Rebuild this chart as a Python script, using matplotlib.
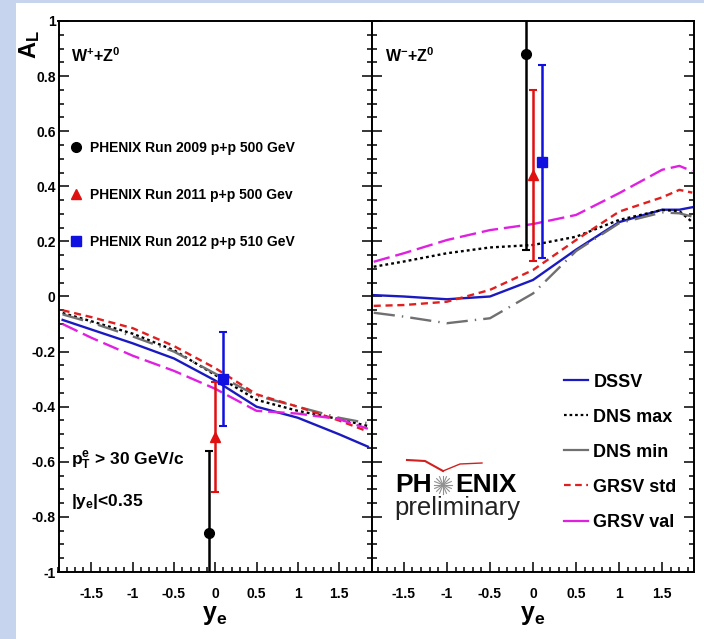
import numpy as np
import matplotlib
matplotlib.use('Agg')
import matplotlib.pyplot as plt
from matplotlib.lines import Line2D
from matplotlib.patches import Rectangle
from matplotlib.ticker import MultipleLocator, FuncFormatter

plt.rcParams['font.family'] = ['Liberation Sans', 'DejaVu Sans']
plt.rcParams['font.weight'] = 'bold'
plt.rcParams['axes.unicode_minus'] = False
plt.rcParams['mathtext.fontset'] = 'custom'
plt.rcParams['mathtext.rm'] = 'Liberation Sans:bold'
plt.rcParams['mathtext.it'] = 'Liberation Sans:bold'
plt.rcParams['mathtext.bf'] = 'Liberation Sans:bold'
plt.rcParams['mathtext.default'] = 'rm'

# data points (y_e, A_L, error)
runs = ['PHENIX Run 2009 p+p 500 GeV', 'PHENIX Run 2011 p+p 500 Gev', 'PHENIX Run 2012 p+p 510 GeV']
run_x = [-0.08, 0.0, 0.1]
wplus_AL = [-0.86, -0.51, -0.30]
wplus_err = [0.30, 0.20, 0.17]
wminus_AL = [0.88, 0.44, 0.49]
wminus_err = [0.71, 0.31, 0.35]

# theory curves, W+ panel
xl = [-1.85, -1.5, -1.0, -0.5, 0.0, 0.5, 1.0, 1.5, 1.85]
l_dssv = [-0.085, -0.12, -0.17, -0.225, -0.305, -0.40, -0.44, -0.50, -0.545]
l_dnsmax = [-0.06, -0.09, -0.135, -0.195, -0.285, -0.375, -0.415, -0.445, -0.47]
l_dnsmin = [-0.065, -0.095, -0.145, -0.20, -0.28, -0.36, -0.40, -0.44, -0.46]
l_grsvstd = [-0.05, -0.075, -0.115, -0.18, -0.26, -0.355, -0.40, -0.45, -0.49]
l_grsvval = [-0.10, -0.15, -0.215, -0.27, -0.335, -0.415, -0.425, -0.445, -0.48]

# theory curves, W- panel
xr = [-1.85, -1.5, -1.0, -0.5, 0.0, 0.5, 1.0, 1.5, 1.7, 1.85]
r_dssv = [0.005, 0.0, -0.01, 0.0, 0.06, 0.17, 0.27, 0.315, 0.315, 0.324]
r_dnsmax = [0.108, 0.127, 0.157, 0.178, 0.187, 0.217, 0.278, 0.314, 0.31, 0.27]
r_dnsmin = [-0.059, -0.073, -0.097, -0.079, 0.011, 0.165, 0.266, 0.305, 0.302, 0.29]
r_grsvstd = [-0.034, -0.031, -0.019, 0.024, 0.096, 0.205, 0.308, 0.36, 0.387, 0.377]
r_grsvval = [0.126, 0.157, 0.205, 0.241, 0.263, 0.296, 0.375, 0.46, 0.474, 0.455]

models = ['DSSV', 'DNS max', 'DNS min', 'GRSV std', 'GRSV val']
colors = ['#1a1ac0', 'black', '#707070', '#e02020', '#e020e0']
styles = ['-', (0, (1.2, 1.3)), (0, (9, 3, 0.6, 3)), (0, (3, 2)), (0, (7, 2.5))]
pt_colors = ['black', '#e01010', '#1010e0']
pt_markers = ['o', '^', 's']
pt_sizes = [7, 7, 7.5]

fmt = FuncFormatter(lambda v, p: '%g' % round(v, 3))

W, H = 704, 639
fig = plt.figure(figsize=(W / 100, H / 100), dpi=100)
fig.patch.set_facecolor('#c6d4ee')
fig.add_artist(Rectangle((16 / W, 0), 1, 1 - 3 / H, transform=fig.transFigure,
                         facecolor='white', edgecolor='none', zorder=0))

ax1 = fig.add_axes([58.5 / W, 67 / H, 313.5 / W, 551 / H])
ax2 = fig.add_axes([372 / W, 67 / H, 322 / W, 551 / H])

curves = [
    (ax1, xl, [l_dssv, l_dnsmax, l_dnsmin, l_grsvstd, l_grsvval], wplus_AL, wplus_err),
    (ax2, xr, [r_dssv, r_dnsmax, r_dnsmin, r_grsvstd, r_grsvval], wminus_AL, wminus_err),
]
for ax, xs, ys, al, err in curves:
    for y, c, ls in zip(ys, colors, styles):
        ax.plot(xs, y, color=c, ls=ls, lw=1.7)
    for i in range(3):
        ax.errorbar(run_x[i], al[i], yerr=err[i], color=pt_colors[i], marker=pt_markers[i],
                    ms=pt_sizes[i], lw=1.8, capsize=3, capthick=1.5, zorder=5)
    ax.set_ylim(-1, 1)
    ax.xaxis.set_major_locator(MultipleLocator(0.5))
    ax.xaxis.set_minor_locator(MultipleLocator(0.1))
    ax.yaxis.set_major_locator(MultipleLocator(0.2))
    ax.yaxis.set_minor_locator(MultipleLocator(0.05))
    ax.xaxis.set_major_formatter(fmt)
    ax.yaxis.set_major_formatter(fmt)
    ax.tick_params(which='both', direction='in', left=True, right=True, top=False, width=1.1)
    ax.tick_params(which='major', length=7)
    ax.tick_params(which='minor', length=3.5)
    ax.tick_params(axis='x', pad=11, labelsize=10)
    ax.tick_params(axis='y', pad=2, labelsize=10)
    for s in ax.spines.values():
        s.set_linewidth(1.4)

ax1.set_xlim(-1.9, 1.9)
ax2.set_xlim(-1.87, 1.87)
ax2.set_yticklabels([])

# texts
fig.text(30 / W, 1 - 45 / H, 'A$_L$', rotation=90, fontsize=17, ha='center', va='center')
fig.text(215 / W, 1 - 615 / H, 'y$_e$', fontsize=18, ha='center', va='center')
fig.text(533 / W, 1 - 615 / H, 'y$_e$', fontsize=18, ha='center', va='center')
ax1.text(0.04, 0.925, 'W$^{+}$+Z$^{0}$', transform=ax1.transAxes, fontsize=11.5)
ax2.text(0.04, 0.925, 'W$^{-}$+Z$^{0}$', transform=ax2.transAxes, fontsize=11.5)
ax1.text(0.04, 0.195, 'p$_T^e$ > 30 GeV/c', transform=ax1.transAxes, fontsize=12.5)
ax1.text(0.04, 0.12, '|y$_e$|<0.35', transform=ax1.transAxes, fontsize=12.5)

# data legend
h_pts = [Line2D([], [], color=c, marker=m, ms=s, ls='none')
         for c, m, s in zip(pt_colors, pt_markers, pt_sizes)]
ax1.legend(h_pts, runs, loc='upper left', bbox_to_anchor=(0.035, 0.783), frameon=False,
           fontsize=10, labelspacing=2.4, handlelength=1.0, handletextpad=0.45,
           borderpad=0, borderaxespad=0)

# model legend
h_mod = [Line2D([], [], color=c, ls='-' if i in (0, 2, 4) else st, lw=1.6)
         for i, (c, st) in enumerate(zip(colors, styles))]
ax2.legend(h_mod, models, loc='upper left', bbox_to_anchor=(0.595, 0.36), frameon=False,
           fontsize=13, labelspacing=1.0, handlelength=1.35, handletextpad=0.3,
           borderpad=0, borderaxespad=0)

# PHENIX preliminary logo
fig.text(395 / W, 1 - 485 / H, 'PH', fontsize=19, ha='left', va='center')
fig.text(455 / W, 1 - 485 / H, 'ENIX', fontsize=19, ha='left', va='center')
fig.text(457 / W, 1 - 508 / H, 'preliminary', fontsize=18.5, fontweight='normal',
         color='#222222', ha='center', va='center')
for a in np.linspace(0, np.pi, 9)[:-1]:
    cx, cy, r = 443, 485, 9
    fig.add_artist(Line2D([(cx - r * np.cos(a)) / W, (cx + r * np.cos(a)) / W],
                          [1 - (cy - r * np.sin(a)) / H, 1 - (cy + r * np.sin(a)) / H],
                          transform=fig.transFigure, color='#909090', lw=0.8))
fig.add_artist(Line2D([407 / W, 425 / W, 443 / W], [1 - 460 / H, 1 - 461 / H, 1 - 471 / H],
                      transform=fig.transFigure, color='#d02020', lw=1.5))
fig.add_artist(Line2D([443 / W, 460 / W, 482 / W], [1 - 471 / H, 1 - 464 / H, 1 - 463 / H],
                      transform=fig.transFigure, color='#d02020', lw=1.0))

fig.savefig('out.png', dpi=100)
